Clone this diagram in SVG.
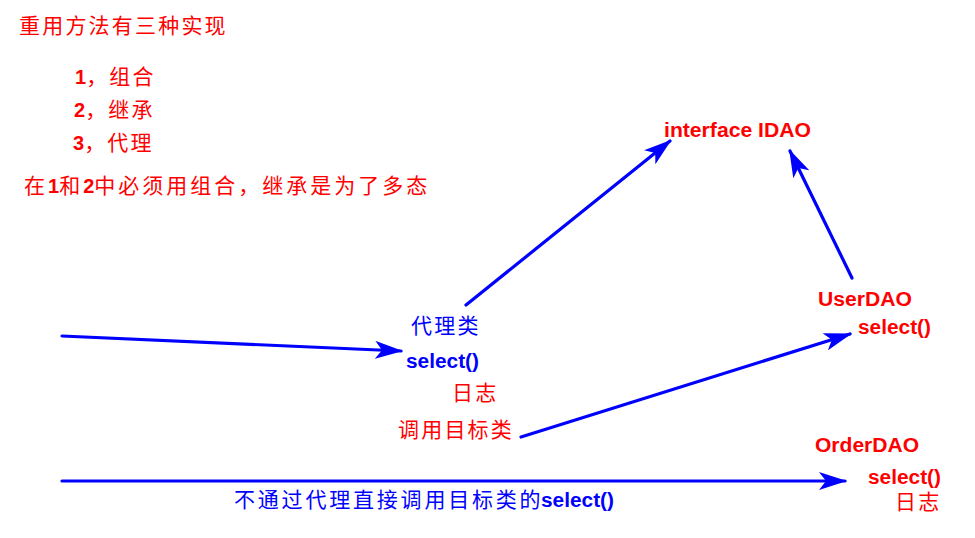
<svg xmlns="http://www.w3.org/2000/svg" width="975" height="538" viewBox="0 0 975 538">
<style>
text{font-family:"Liberation Sans","Noto Sans CJK SC",sans-serif;}
.r{fill:#ff0000;}
.b{fill:#0000ff;}
.cj{font-size:21px;letter-spacing:2.2px;}
.lb{font-weight:bold;font-size:20px;}
.dg{font-weight:bold;font-size:20px;letter-spacing:0;}
.conn line{stroke:#0000ff;stroke-width:3.2;stroke-linecap:round;}
</style>
<defs>
<marker id="ah" markerUnits="userSpaceOnUse" markerWidth="28" markerHeight="18" viewBox="0 0 28 18" refX="26" refY="9" orient="auto">
<path d="M0,0 L28,9 L0,18 L7,9 Z" fill="#0000ff"/>
</marker>
</defs>
<rect width="975" height="538" fill="#ffffff"/>
<g id="notes">
<text class="r cj" x="19" y="33">重用方法有三种实现</text>
<text class="r cj" x="75" y="84"><tspan class="dg">1</tspan>，组合</text>
<text class="r cj" x="74" y="117"><tspan class="dg">2</tspan>，继承</text>
<text class="r cj" x="73" y="150"><tspan class="dg">3</tspan>，代理</text>
<text class="r cj" x="24" y="193" style="letter-spacing:3px">在<tspan class="dg">1</tspan>和<tspan class="dg">2</tspan>中必须用组合，继承是为了多态</text>
</g>
<g id="proxy">
<text class="b cj" x="411" y="333">代理类</text>
<text class="b lb" x="406" y="368" textLength="73" lengthAdjust="spacingAndGlyphs">select()</text>
<text class="r cj" x="452" y="400">日志</text>
<text class="r cj" x="398" y="437">调用目标类</text>
</g>
<g id="idao">
<text class="r lb" x="664" y="137" textLength="147" lengthAdjust="spacingAndGlyphs">interface IDAO</text>
</g>
<g id="userdao">
<text class="r lb" x="818" y="306" textLength="94" lengthAdjust="spacingAndGlyphs">UserDAO</text>
<text class="r lb" x="858" y="334" textLength="73" lengthAdjust="spacingAndGlyphs">select()</text>
</g>
<g id="orderdao">
<text class="r lb" x="815" y="452" textLength="104" lengthAdjust="spacingAndGlyphs">OrderDAO</text>
<text class="r lb" x="868" y="484" textLength="73" lengthAdjust="spacingAndGlyphs">select()</text>
<text class="r cj" x="895" y="509">日志</text>
</g>
<g id="direct-label">
<text class="b cj" x="234" y="507" style="letter-spacing:2.8px">不通过代理直接调用目标类的</text>
<text class="b lb" x="541" y="507" textLength="73" lengthAdjust="spacingAndGlyphs">select()</text>
</g>
<g class="conn" id="connectors">
<line x1="62" y1="336" x2="401" y2="351" marker-end="url(#ah)"/>
<line x1="466" y1="305" x2="670" y2="141" marker-end="url(#ah)"/>
<line x1="852" y1="278" x2="790" y2="151" marker-end="url(#ah)"/>
<line x1="521" y1="437" x2="850" y2="334" marker-end="url(#ah)"/>
<line x1="62" y1="481" x2="845" y2="481" marker-end="url(#ah)"/>
</g>
</svg>
